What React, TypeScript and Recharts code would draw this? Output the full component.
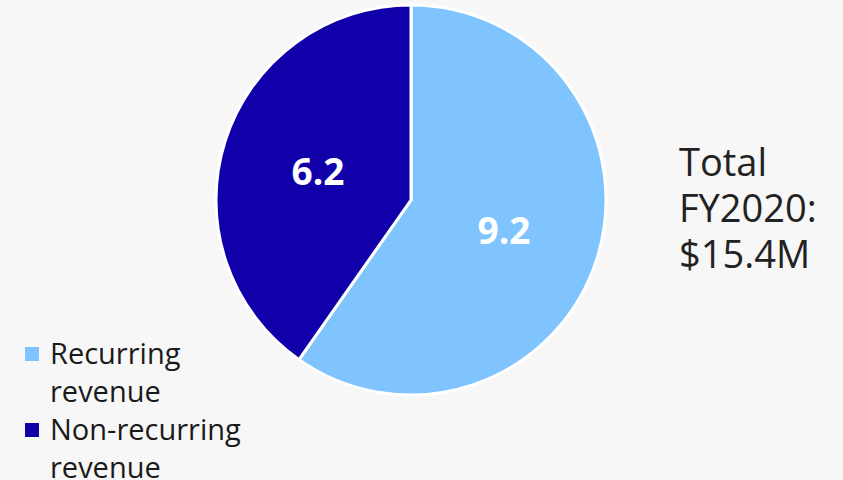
import React from 'react';
import { PieChart, Pie, Cell, Legend } from 'recharts';

const categories = ['Recurring revenue', 'Non-recurring revenue'];
const values = [9.2, 6.2];
const colors = ['#80C4FF', '#1100AA'];
const totalLines = ['Total', 'FY2020:', '$15.4M'];

const data = categories.map((name, i) => ({ name, value: values[i] }));

const RADIAN = Math.PI / 180;
const FONT = '"Open Sans", "Noto Sans", sans-serif';

const renderLabel = (props: any) => {
  const { cx, cy, midAngle, outerRadius, value } = props;
  const r = outerRadius * 0.5;
  const x = cx + r * Math.cos(-midAngle * RADIAN);
  const y = cy + r * Math.sin(-midAngle * RADIAN);
  return (
    <text
      x={x}
      y={y}
      fill="#ffffff"
      textAnchor="middle"
      dominantBaseline="central"
      fontFamily={FONT}
      fontWeight={700}
      fontSize={37}
    >
      {value.toFixed(1)}
    </text>
  );
};

const renderLegend = () => (
  <div style={{ fontFamily: FONT, fontSize: 29, lineHeight: '38px', color: '#1a1a1a' }}>
    {categories.map((c, i) => {
      const [first, ...rest] = c.split(' ');
      return (
        <div key={c} style={{ position: 'relative', paddingLeft: 42 }}>
          <span
            style={{
              position: 'absolute',
              left: 17,
              top: 13,
              width: 14,
              height: 14,
              background: colors[i],
            }}
          />
          <div>{first}</div>
          <div>{rest.join(' ')}</div>
        </div>
      );
    })}
  </div>
);

export default function App() {
  return (
    <div
      style={{
        position: 'absolute',
        left: 0,
        top: 0,
        width: 843,
        height: 480,
        background: '#f7f7f7',
        overflow: 'hidden',
      }}
    >
      <PieChart width={843} height={480} margin={{ top: 0, right: 0, bottom: 0, left: 0 }}>
        <Pie
          data={data}
          dataKey="value"
          nameKey="name"
          cx={411}
          cy={200}
          outerRadius={195}
          startAngle={90}
          endAngle={-270}
          stroke="#ffffff"
          strokeWidth={3}
          label={renderLabel}
          labelLine={false}
          isAnimationActive={false}
        >
          {data.map((d, i) => (
            <Cell key={d.name} fill={colors[i]} />
          ))}
        </Pie>
        <Legend
          content={renderLegend}
          wrapperStyle={{ position: 'absolute', left: 8, top: 334, width: 280 }}
        />
      </PieChart>
      <div
        style={{
          position: 'absolute',
          left: 679,
          top: 138,
          fontFamily: FONT,
          fontSize: 38,
          lineHeight: '46px',
          color: '#222222',
        }}
      >
        {totalLines.map((t) => (
          <div key={t}>{t}</div>
        ))}
      </div>
    </div>
  );
}
